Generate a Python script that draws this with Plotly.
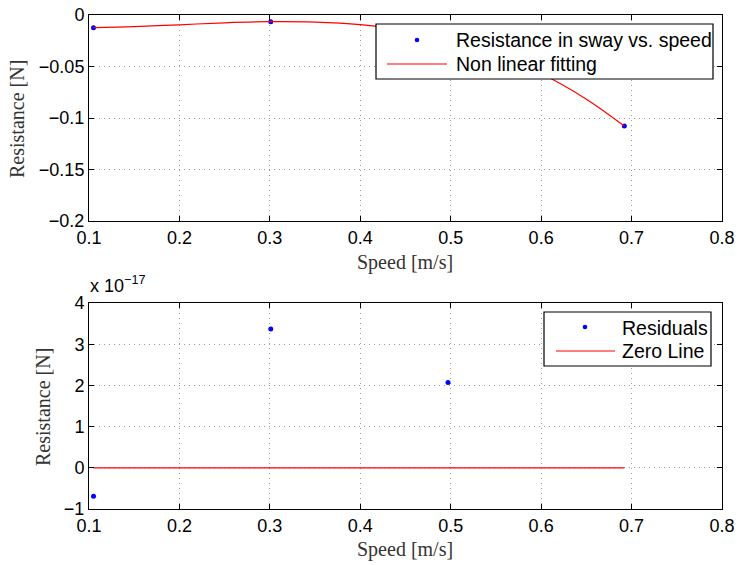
import plotly.graph_objects as go

# ---- data ----
speed = [0.105, 0.301, 0.497, 0.692]
resistance = [-0.0123, -0.0065, -0.0236, -0.1078]

fit_speed = [0.105, 0.15, 0.2, 0.25, 0.3, 0.35, 0.4, 0.45, 0.5, 0.55, 0.6, 0.65, 0.692]
fit_resistance = [-0.0123, -0.0113, -0.0095, -0.0076, -0.0065, -0.0069, -0.0094,
                  -0.0149, -0.0242, -0.0379, -0.0568, -0.0817, -0.1078]

res_speed = [0.105, 0.301, 0.497]
residuals = [-0.69e-17, 3.37e-17, 2.07e-17]

zero_speed = [0.105, 0.692]
zero_values = [0.0, 0.0]

x_ticks = [0.1, 0.2, 0.3, 0.4, 0.5, 0.6, 0.7, 0.8]
x_ticktext = ["0.1", "0.2", "0.3", "0.4", "0.5", "0.6", "0.7", "0.8"]
y1_ticks = [-0.2, -0.15, -0.1, -0.05, 0]
y1_ticktext = ["\u22120.2", "\u22120.15", "\u22120.1", "\u22120.05", "0"]
y2_ticks = [-1e-17, 0, 1e-17, 2e-17, 3e-17, 4e-17]
y2_ticktext = ["\u22121", "0", "1", "2", "3", "4"]

legend1_labels = ["Resistance in sway vs. speed", "Non linear fitting"]
legend2_labels = ["Residuals", "Zero Line"]

W, H = 737, 565
SANS = "Liberation Sans, Arial, Helvetica, sans-serif"
SERIF = "Liberation Serif, Times New Roman, serif"
BLUE = "#0000ff"
RED = "#ff0000"

def px(x):
    return x / W

def py(y):
    return 1 - y / H

fig = go.Figure()

fig.add_trace(go.Scatter(x=speed, y=resistance, mode="markers",
                         marker=dict(color=BLUE, size=5),
                         name=legend1_labels[0], xaxis="x", yaxis="y"))
fig.add_trace(go.Scatter(x=fit_speed, y=fit_resistance, mode="lines",
                         line=dict(color=RED, width=1.2, shape="spline"),
                         name=legend1_labels[1], xaxis="x", yaxis="y"))
fig.add_trace(go.Scatter(x=res_speed, y=residuals, mode="markers",
                         marker=dict(color=BLUE, size=5),
                         name=legend2_labels[0], xaxis="x2", yaxis="y2"))
fig.add_trace(go.Scatter(x=zero_speed, y=zero_values, mode="lines",
                         line=dict(color=RED, width=1.2),
                         name=legend2_labels[1], xaxis="x2", yaxis="y2"))

axis_common = dict(
    showline=True, linecolor="black", linewidth=1, mirror="ticks",
    ticks="inside", ticklen=5, tickcolor="black", tickwidth=1,
    showgrid=True, gridcolor="#9a9a9a", gridwidth=1, griddash="1px,4px",
    zeroline=False, automargin=False,
    tickfont=dict(family=SANS, size=18, color="black"),
)

fig.update_layout(
    width=W, height=H,
    margin=dict(l=0, r=0, t=0, b=0, autoexpand=False),
    paper_bgcolor="white", plot_bgcolor="white",
    showlegend=False,
    xaxis=dict(domain=[px(89), px(722)], range=[0.1, 0.8], anchor="y",
               tickvals=x_ticks, ticktext=x_ticktext, **axis_common),
    yaxis=dict(domain=[py(221), py(15)], range=[-0.2, 0], anchor="x",
               tickvals=y1_ticks, ticktext=y1_ticktext, **axis_common),
    xaxis2=dict(domain=[px(89), px(722)], range=[0.1, 0.8], anchor="y2",
                tickvals=x_ticks, ticktext=x_ticktext, **axis_common),
    yaxis2=dict(domain=[py(509), py(303)], range=[-1e-17, 4e-17], anchor="x2",
                tickvals=y2_ticks, ticktext=y2_ticktext, **axis_common),
)

shapes = []
ann = []

def legend_box(x0, y0, x1, y1, dot_xy, line_x, line_y, text_x, text_ys, labels):
    shapes.append(dict(type="rect", xref="paper", yref="paper",
                       x0=px(x0), x1=px(x1), y0=py(y1), y1=py(y0),
                       fillcolor="white", line=dict(color="black", width=1.2),
                       layer="above"))
    dx, dy = dot_xy
    r = 2.3
    shapes.append(dict(type="circle", xref="paper", yref="paper",
                       x0=px(dx - r), x1=px(dx + r), y0=py(dy + r), y1=py(dy - r),
                       fillcolor=BLUE, line=dict(color=BLUE, width=0), layer="above"))
    shapes.append(dict(type="line", xref="paper", yref="paper",
                       x0=px(line_x[0]), x1=px(line_x[1]), y0=py(line_y), y1=py(line_y),
                       line=dict(color=RED, width=1.2), layer="above"))
    for lab, ty in zip(labels, text_ys):
        ann.append(dict(text=lab, x=px(text_x), y=py(ty), xref="paper", yref="paper",
                        showarrow=False, xanchor="left", yanchor="middle",
                        font=dict(family=SANS, size=19.5, color="black")))

legend_box(376, 24, 713, 79, (417, 40), (387, 447), 64, 454, [40, 64], legend1_labels)
legend_box(544, 312, 711, 366, (585, 327), (556, 615), 351, 620, [327.5, 350.5], legend2_labels)

lab_font = dict(family=SERIF, size=20, color="#333333")
ann.append(dict(text="Speed [m/s]", x=px(405), y=py(263), xref="paper", yref="paper",
                showarrow=False, font=lab_font, xanchor="center", yanchor="middle"))
ann.append(dict(text="Speed [m/s]", x=px(405), y=py(549), xref="paper", yref="paper",
                showarrow=False, font=lab_font, xanchor="center", yanchor="middle"))
ann.append(dict(text="Resistance [N]", x=px(17), y=py(119), xref="paper", yref="paper",
                showarrow=False, font=lab_font, textangle=-90,
                xanchor="center", yanchor="middle"))
ann.append(dict(text="Resistance [N]", x=px(43), y=py(407), xref="paper", yref="paper",
                showarrow=False, font=lab_font, textangle=-90,
                xanchor="center", yanchor="middle"))
ann.append(dict(text="x 10<sup>\u221217</sup>", x=px(88), y=py(298), xref="paper", yref="paper",
                showarrow=False, font=dict(family=SANS, size=18, color="black"),
                xanchor="left", yanchor="bottom"))

fig.update_layout(shapes=shapes, annotations=ann)

fig.write_html("out.html")
